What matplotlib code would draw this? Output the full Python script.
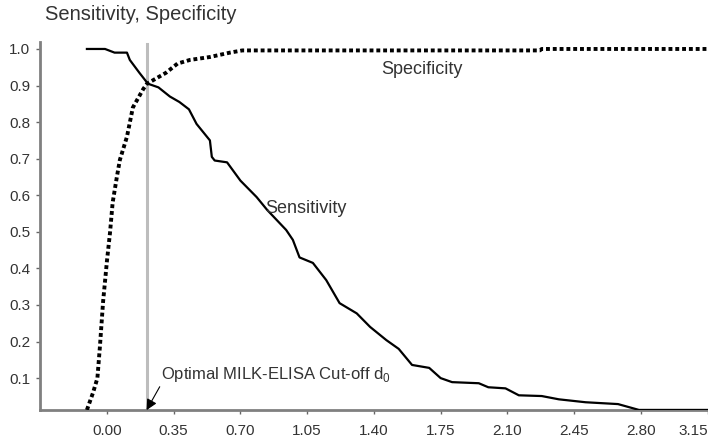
import numpy as np
import matplotlib.pyplot as plt

plt.rcParams['font.family'] = ['Liberation Sans', 'DejaVu Sans']

# Sensitivity curve (solid)
sens_x = [-0.105, -0.01, 0.04, 0.105, 0.12, 0.17, 0.215, 0.27, 0.33, 0.38, 0.43,
          0.47, 0.54, 0.55, 0.565, 0.63, 0.70, 0.785, 0.84, 0.94, 0.975, 1.01,
          1.08, 1.15, 1.22, 1.31, 1.38, 1.465, 1.53, 1.60, 1.69, 1.75, 1.81,
          1.95, 2.00, 2.09, 2.16, 2.28, 2.37, 2.51, 2.68, 2.79, 3.15]
sens_y = [1.0, 1.0, 0.99, 0.99, 0.97, 0.935, 0.905, 0.895, 0.87, 0.855, 0.835,
          0.795, 0.75, 0.705, 0.695, 0.69, 0.64, 0.595, 0.56, 0.505, 0.478, 0.43,
          0.415, 0.368, 0.305, 0.277, 0.24, 0.204, 0.18, 0.136, 0.128, 0.10, 0.089,
          0.086, 0.075, 0.072, 0.053, 0.051, 0.042, 0.034, 0.029, 0.013, 0.013]

# Specificity curve (dotted)
spec_x = [-0.105, -0.073, -0.05, -0.037, -0.02, 0.0, 0.016, 0.03, 0.052, 0.068,
          0.105, 0.136, 0.19, 0.21, 0.26, 0.31, 0.37, 0.435, 0.54, 0.645, 0.71,
          2.27, 2.28, 3.15]
spec_y = [0.013, 0.06, 0.10, 0.185, 0.31, 0.42, 0.497, 0.58, 0.65, 0.697,
          0.76, 0.84, 0.89, 0.905, 0.92, 0.935, 0.96, 0.97, 0.978, 0.99, 0.996,
          0.996, 1.0, 1.0]

cutoff = 0.208
xticks = [0.00, 0.35, 0.70, 1.05, 1.40, 1.75, 2.10, 2.45, 2.80, 3.15]
yticks = [0.1, 0.2, 0.3, 0.4, 0.5, 0.6, 0.7, 0.8, 0.9, 1.0]

fig = plt.figure(figsize=(7.08, 4.40), dpi=100)
ax = fig.add_axes([0.0565, 0.068, 0.9435, 0.8365])

ax.axvline(cutoff, ymax=0.995, color='#bdbdbd', lw=2.2, zorder=1)
ax.plot(sens_x, sens_y, color='black', lw=1.6, zorder=3)
ax.plot(spec_x, spec_y, color='black', lw=2.8, linestyle=(0, (1, 0.75)),
        dash_capstyle='butt', zorder=3)

ax.set_xlim(-0.351, 3.152)
ax.set_ylim(0.0126, 1.019)

ax.set_xticks(xticks)
ax.set_xticklabels(['%.2f' % t for t in xticks])
ax.set_yticks(yticks)
ax.set_yticklabels(['%.1f' % t for t in yticks])
ax.get_xticklabels()[-1].set_ha('right')
ax.tick_params(axis='both', labelsize=11, colors='#666666', labelcolor='#333333',
               length=3, width=1)
ax.tick_params(axis='x', pad=7)
ax.tick_params(axis='y', pad=4)

for side in ['top', 'right']:
    ax.spines[side].set_visible(False)
ax.spines['left'].set_color('#808080')
ax.spines['left'].set_linewidth(2)
ax.spines['bottom'].set_color('#808080')
ax.spines['bottom'].set_linewidth(2)

ax.text(1.44, 0.945, 'Specificity', fontsize=13, color='#333333', va='center')
ax.text(0.83, 0.565, 'Sensitivity', fontsize=13, color='#333333', va='center')
ax.annotate('Optimal MILK-ELISA Cut-off d$_\\mathregular{0}$',
            xy=(cutoff, 0.0126), xytext=(0.285, 0.11),
            fontsize=12, color='#333333', va='center',
            arrowprops=dict(arrowstyle='-|>', color='black', lw=0.8,
                            mutation_scale=16, shrinkA=0, shrinkB=0,
                            relpos=(0.0, 0.0)))

fig.text(0.063, 0.966, 'Sensitivity, Specificity', fontsize=14.5,
         color='#333333', va='center')

plt.savefig('out.png', dpi=100)
